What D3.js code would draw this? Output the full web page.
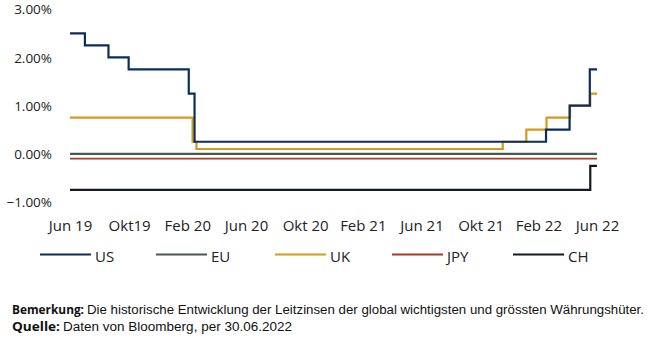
<!DOCTYPE html>
<html><head><meta charset="utf-8">
<script src="https://cdn.jsdelivr.net/npm/d3@7"></script>
<style>
body{margin:0;background:#fff;}
svg text{font-family:"Open Sans",sans-serif;}
</style></head><body>
<svg id="c" width="658" height="361"></svg>
<script>
const seriesNames = ["US","EU","UK","JPY","CH"];
const seriesColors = ["#0b2e5c","#4b5851","#d39a1c","#a83c2a","#141a20"];
// [date, rate %] change points (step after)
const usRates = [["2019-06-30",2.5],["2019-07-31",2.25],["2019-09-18",2.0],["2019-10-30",1.75],["2020-03-03",1.25],["2020-03-15",0.25],["2022-03-16",0.5],["2022-05-04",1.0],["2022-06-15",1.75],["2022-06-30",1.75]];
const euRates = [["2019-06-30",0.0],["2022-06-30",0.0]];
const ukRates = [["2019-06-30",0.75],["2020-03-11",0.25],["2020-03-19",0.1],["2021-12-16",0.25],["2022-02-03",0.5],["2022-03-17",0.75],["2022-05-05",1.0],["2022-06-16",1.25],["2022-06-30",1.25]];
const jpyRates = [["2019-06-30",-0.1],["2022-06-30",-0.1]];
const chRates = [["2019-06-30",-0.75],["2022-06-16",-0.25],["2022-06-30",-0.25]];
const xTickDates = ["2019-06-30","2019-10-31","2020-02-29","2020-06-30","2020-10-31","2021-02-28","2021-06-30","2021-10-31","2022-02-28","2022-06-30"];
const xTickLabels = ["Jun 19","Okt19","Feb 20","Jun 20","Okt 20","Feb 21","Jun 21","Okt 21","Feb 22","Jun 22"];
const yTicks = [-1,0,1,2,3];
const noteLabel = "Bemerkung:";
const noteText = "Die historische Entwicklung der Leitzinsen der global wichtigsten und grössten Währungshüter.";
const srcLabel = "Quelle:";
const srcText = "Daten von Bloomberg, per 30.06.2022";

const parse = d3.timeParse("%Y-%m-%d");
const svg = d3.select("#c");
const x = d3.scaleTime().domain([parse("2019-06-30"), parse("2022-06-30")]).range([70, 597]);
const y = d3.scaleLinear().domain([-1, 3]).range([202, 9.2]);

// y axis labels
const yAxis = d3.axisLeft(y).tickValues(yTicks).tickSize(0).tickPadding(0)
  .tickFormat(d => d3.format(".2f")(d) + "%");
const yg = svg.append("g").attr("transform","translate(52,0)").call(yAxis);
yg.select(".domain").remove();
yg.selectAll("text").attr("font-size","13.5px").attr("fill","#222").attr("font-family","Open Sans, sans-serif").attr("dy","0.35em");

// x axis labels
const xAxis = d3.axisBottom(x).tickValues(xTickDates.map(parse)).tickSize(0).tickPadding(0)
  .tickFormat((d,i) => xTickLabels[i]);
const xg = svg.append("g").attr("transform","translate(0,231)").call(xAxis);
xg.select(".domain").remove();
xg.selectAll("text").attr("font-size","15px").attr("fill","#222").attr("font-family","Open Sans, sans-serif").attr("dy","0").attr("y",0);

const allSeries = [usRates, euRates, ukRates, jpyRates, chRates];
const widths = [2.2, 2.2, 2.2, 1.7, 2.2];
const line = d3.line().x(d => x(parse(d[0]))).y(d => y(d[1])).curve(d3.curveStepAfter);
const drawOrder = [3,1,4,2,0];
drawOrder.forEach(i => {
  svg.append("path").datum(allSeries[i]).attr("d", line)
    .attr("fill","none").attr("stroke", seriesColors[i]).attr("stroke-width", widths[i]);
});

// legend
const legX = [40, 156, 275, 392, 513];
const leg = svg.append("g");
seriesNames.forEach((n,i) => {
  leg.append("line").attr("x1", legX[i]).attr("x2", legX[i]+51).attr("y1",254.5).attr("y2",254.5)
    .attr("stroke", seriesColors[i]).attr("stroke-width",2);
  leg.append("text").attr("x", legX[i]+55).attr("y",262)
    .attr("font-size","15px").attr("fill","#222").text(n);
});

// footer
function footText(xp, yp, txt, bold, len) {
  svg.append("text").attr("x",xp).attr("y",yp).attr("font-size","12.5px").attr("fill","#111")
    .attr("font-weight", bold ? "bold" : "normal")
    .style("font-family", bold ? "'Open Sans', sans-serif" : "'Liberation Sans', Arial, sans-serif")
    .attr("textLength", len).attr("lengthAdjust","spacingAndGlyphs").text(txt);
}
footText(12, 313.5, noteLabel, true, 72);
footText(87, 313.5, noteText, false, 557);
footText(12, 330.5, srcLabel, true, 48);
footText(63, 330.5, srcText, false, 229);
</script>
</body></html>
